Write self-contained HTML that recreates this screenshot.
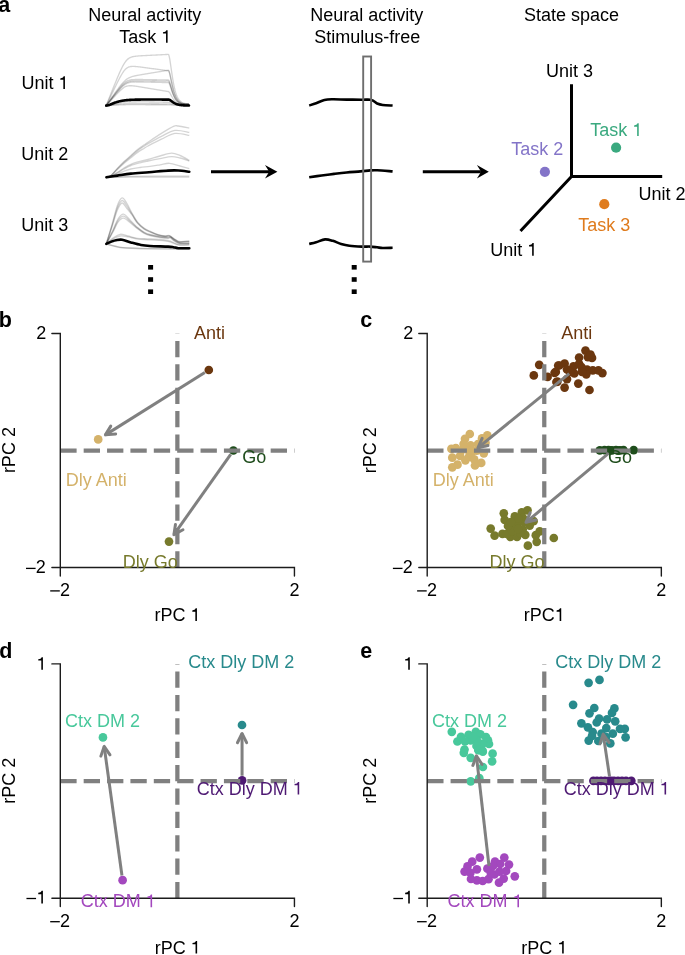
<!DOCTYPE html>
<html><head><meta charset="utf-8"><style>
html,body{margin:0;padding:0;background:#fff;}
svg{display:block;will-change:transform;}
text{font-family:"Liberation Sans",sans-serif;}
.b{font-weight:bold;}
</style></head><body>
<svg width="685" height="955" viewBox="0 0 685 955">
<rect width="685" height="955" fill="#fff"/>
<text x="88.28" y="21.10" font-size="18" fill="#000" >Neural activity</text>
<text x="119.14" y="42.80" font-size="18" fill="#000" >Task</text>
<path d=" M166.03,42.80 L167.61,42.80 L167.61,30.15 L166.37,30.15 C165.98,31.28 164.84,32.07 162.97,32.18 L162.97,33.55 L166.03,33.55 Z" fill="#000"/>
<text x="310.18" y="21.10" font-size="18" fill="#000" >Neural activity</text>
<text x="314.20" y="42.80" font-size="18" fill="#000" >Stimulus-free</text>
<text x="523.90" y="21.10" font-size="18" fill="#000" >State space</text>
<text x="21.45" y="89.00" font-size="18" fill="#000" >Unit</text>
<path d=" M63.34,89.00 L64.93,89.00 L64.93,76.35 L63.69,76.35 C63.29,77.48 62.16,78.27 60.28,78.38 L60.28,79.75 L63.34,79.75 Z" fill="#000"/>
<text x="21.15" y="159.90" font-size="18" fill="#000" >Unit 2</text>
<text x="21.15" y="231.10" font-size="18" fill="#000" >Unit 3</text>
<path d="M106.20,105.60 L106.80,104.10 L107.40,102.59 L108.00,101.09 L108.60,99.58 L109.20,98.08 L109.80,96.58 L110.40,95.07 L111.00,93.57 L111.60,92.07 L112.20,90.58 L112.80,89.08 L113.40,87.59 L114.00,86.10 L114.60,84.62 L115.20,83.14 L115.80,81.67 L116.40,80.21 L117.00,78.76 L117.60,77.33 L118.20,75.90 L118.80,74.50 L119.40,73.12 L120.00,71.77 L120.60,70.46 L121.20,69.18 L121.80,67.94 L122.40,66.76 L123.00,65.64 L123.60,64.58 L124.20,63.59 L124.80,62.65 L125.40,61.79 L126.00,61.00 L126.60,60.30 L127.20,59.68 L127.80,59.13 L128.40,58.65 L129.00,58.24 L129.60,57.88 L130.20,57.58 L130.80,57.32 L131.40,57.10 L132.00,56.91 L132.60,56.75 L133.20,56.61 L133.80,56.50 L134.40,56.40 L135.00,56.31 L135.60,56.23 L136.20,56.16 L136.80,56.10 L137.40,56.05 L138.00,56.00 L138.60,55.95 L139.20,55.91 L139.80,55.87 L140.40,55.83 L141.00,55.79 L141.60,55.76 L142.20,55.72 L142.80,55.69 L143.40,55.66 L144.00,55.62 L144.60,55.59 L145.20,55.56 L145.80,55.53 L146.40,55.50 L147.00,55.47 L147.60,55.44 L148.20,55.41 L148.80,55.38 L149.40,55.35 L150.00,55.32 L150.60,55.29 L151.20,55.26 L151.80,55.23 L152.40,55.20 L153.00,55.17 L153.60,55.14 L154.20,55.11 L154.80,55.08 L155.40,55.05 L156.00,55.02 L156.60,54.99 L157.20,54.96 L157.80,54.93 L158.40,54.90 L159.00,54.87 L159.60,54.84 L160.20,54.81 L160.80,54.78 L161.40,54.75 L162.00,54.72 L162.60,54.69 L163.20,54.66 L163.80,54.63 L164.40,54.60 L165.00,54.57 L165.60,54.54 L166.20,54.51 L166.80,54.48 L167.40,54.45 L168.00,54.42 L168.60,54.54 L169.20,56.32 L169.80,59.46 L170.40,63.34 L171.00,67.51 L171.60,71.68 L172.20,75.69 L172.80,79.42 L173.40,82.81 L174.00,85.85 L174.60,88.53 L175.20,90.88 L175.80,92.92 L176.40,94.68 L177.00,96.18 L177.60,97.46 L178.20,98.54 L178.80,99.46 L179.40,100.23 L180.00,100.87 L180.60,101.41 L181.20,101.86 L181.80,102.24 L182.40,102.55 L183.00,102.81 L183.60,103.02 L184.20,103.19 L184.80,103.34 L185.40,103.46 L186.00,103.56 L186.60,103.64 L187.20,103.70 L187.80,103.76 L188.40,103.80 L189.00,103.84" stroke="#000" stroke-opacity="0.17" stroke-width="1.35" fill="none"/>
<path d="M106.20,105.60 L106.80,104.35 L107.40,103.10 L108.00,101.84 L108.60,100.59 L109.20,99.34 L109.80,98.09 L110.40,96.84 L111.00,95.59 L111.60,94.34 L112.20,93.09 L112.80,91.85 L113.40,90.61 L114.00,89.37 L114.60,88.13 L115.20,86.90 L115.80,85.68 L116.40,84.46 L117.00,83.25 L117.60,82.06 L118.20,80.87 L118.80,79.71 L119.40,78.56 L120.00,77.43 L120.60,76.34 L121.20,75.27 L121.80,74.24 L122.40,73.26 L123.00,72.32 L123.60,71.44 L124.20,70.62 L124.80,69.93 L125.40,69.31 L126.00,68.76 L126.60,68.27 L127.20,67.86 L127.80,67.51 L128.40,67.22 L129.00,66.98 L129.60,66.79 L130.20,66.65 L130.80,66.54 L131.40,66.47 L132.00,66.42 L132.60,66.40 L133.20,66.39 L133.80,66.40 L134.40,66.43 L135.00,66.46 L135.60,66.51 L136.20,66.56 L136.80,66.61 L137.40,66.67 L138.00,66.74 L138.60,66.81 L139.20,66.88 L139.80,66.95 L140.40,67.03 L141.00,67.10 L141.60,67.18 L142.20,67.26 L142.80,67.34 L143.40,67.42 L144.00,67.50 L144.60,67.58 L145.20,67.66 L145.80,67.74 L146.40,67.82 L147.00,67.90 L147.60,67.98 L148.20,68.06 L148.80,68.14 L149.40,68.22 L150.00,68.30 L150.60,68.38 L151.20,68.47 L151.80,68.55 L152.40,68.63 L153.00,68.71 L153.60,68.79 L154.20,68.87 L154.80,68.95 L155.40,69.04 L156.00,69.12 L156.60,69.20 L157.20,69.28 L157.80,69.36 L158.40,69.44 L159.00,69.52 L159.60,69.61 L160.20,69.69 L160.80,69.77 L161.40,69.85 L162.00,69.93 L162.60,70.01 L163.20,70.09 L163.80,70.18 L164.40,70.26 L165.00,70.34 L165.60,70.42 L166.20,70.50 L166.80,70.58 L167.40,70.66 L168.00,70.75 L168.60,70.89 L169.20,72.09 L169.80,74.21 L170.40,76.82 L171.00,79.63 L171.60,82.44 L172.20,85.14 L172.80,87.65 L173.40,89.93 L174.00,91.98 L174.60,93.79 L175.20,95.37 L175.80,96.74 L176.40,97.92 L177.00,98.93 L177.60,99.80 L178.20,100.53 L178.80,101.14 L179.40,101.66 L180.00,102.09 L180.60,102.46 L181.20,102.76 L181.80,103.01 L182.40,103.22 L183.00,103.40 L183.60,103.54 L184.20,103.66 L184.80,103.76 L185.40,103.84 L186.00,103.90 L186.60,103.96 L187.20,104.00 L187.80,104.04 L188.40,104.07 L189.00,104.09" stroke="#000" stroke-opacity="0.17" stroke-width="1.35" fill="none"/>
<path d="M106.20,105.60 L106.80,104.74 L107.40,103.88 L108.00,103.01 L108.60,102.15 L109.20,101.29 L109.80,100.43 L110.40,99.56 L111.00,98.70 L111.60,97.84 L112.20,96.99 L112.80,96.13 L113.40,95.27 L114.00,94.42 L114.60,93.57 L115.20,92.72 L115.80,91.88 L116.40,91.04 L117.00,90.21 L117.60,89.39 L118.20,88.57 L118.80,87.77 L119.40,86.98 L120.00,86.20 L120.60,85.45 L121.20,84.71 L121.80,84.00 L122.40,83.33 L123.00,82.68 L123.60,82.07 L124.20,81.51 L124.80,80.90 L125.40,80.33 L126.00,79.80 L126.60,79.32 L127.20,78.88 L127.80,78.49 L128.40,78.13 L129.00,77.81 L129.60,77.52 L130.20,77.26 L130.80,77.03 L131.40,76.82 L132.00,76.63 L132.60,76.45 L133.20,76.29 L133.80,76.14 L134.40,76.00 L135.00,75.87 L135.60,75.74 L136.20,75.62 L136.80,75.50 L137.40,75.38 L138.00,75.27 L138.60,75.16 L139.20,75.06 L139.80,74.95 L140.40,74.85 L141.00,74.74 L141.60,74.64 L142.20,74.54 L142.80,74.44 L143.40,74.34 L144.00,74.24 L144.60,74.14 L145.20,74.04 L145.80,73.94 L146.40,73.84 L147.00,73.74 L147.60,73.64 L148.20,73.54 L148.80,73.44 L149.40,73.34 L150.00,73.24 L150.60,73.14 L151.20,73.04 L151.80,72.94 L152.40,72.84 L153.00,72.74 L153.60,72.64 L154.20,72.55 L154.80,72.45 L155.40,72.35 L156.00,72.25 L156.60,72.15 L157.20,72.05 L157.80,71.95 L158.40,71.85 L159.00,71.75 L159.60,71.65 L160.20,71.55 L160.80,71.46 L161.40,71.36 L162.00,71.26 L162.60,71.16 L163.20,71.06 L163.80,70.96 L164.40,70.86 L165.00,70.76 L165.60,70.66 L166.20,70.56 L166.80,70.46 L167.40,70.37 L168.00,70.27 L168.60,70.30 L169.20,71.52 L169.80,73.69 L170.40,76.36 L171.00,79.24 L171.60,82.12 L172.20,84.88 L172.80,87.45 L173.40,89.79 L174.00,91.88 L174.60,93.74 L175.20,95.36 L175.80,96.76 L176.40,97.97 L177.00,99.01 L177.60,99.89 L178.20,100.64 L178.80,101.27 L179.40,101.80 L180.00,102.24 L180.60,102.62 L181.20,102.93 L181.80,103.18 L182.40,103.40 L183.00,103.58 L183.60,103.72 L184.20,103.84 L184.80,103.94 L185.40,104.03 L186.00,104.09 L186.60,104.15 L187.20,104.20 L187.80,104.23 L188.40,104.26 L189.00,104.29" stroke="#000" stroke-opacity="0.17" stroke-width="1.35" fill="none"/>
<path d="M106.20,105.60 L106.80,104.79 L107.40,103.98 L108.00,103.17 L108.60,102.36 L109.20,101.55 L109.80,100.74 L110.40,99.93 L111.00,99.12 L111.60,98.31 L112.20,97.51 L112.80,96.70 L113.40,95.90 L114.00,95.10 L114.60,94.30 L115.20,93.50 L115.80,92.71 L116.40,91.92 L117.00,91.14 L117.60,90.37 L118.20,89.60 L118.80,88.85 L119.40,88.10 L120.00,87.38 L120.60,86.67 L121.20,85.98 L121.80,85.31 L122.40,84.67 L123.00,84.07 L123.60,83.50 L124.20,82.96 L124.80,82.48 L125.40,82.04 L126.00,81.65 L126.60,81.29 L127.20,80.98 L127.80,80.72 L128.40,80.49 L129.00,80.29 L129.60,80.13 L130.20,79.99 L130.80,79.88 L131.40,79.79 L132.00,79.71 L132.60,79.65 L133.20,79.61 L133.80,79.57 L134.40,79.55 L135.00,79.53 L135.60,79.51 L136.20,79.50 L136.80,79.50 L137.40,79.49 L138.00,79.49 L138.60,79.50 L139.20,79.50 L139.80,79.51 L140.40,79.51 L141.00,79.52 L141.60,79.53 L142.20,79.54 L142.80,79.54 L143.40,79.55 L144.00,79.56 L144.60,79.57 L145.20,79.58 L145.80,79.59 L146.40,79.60 L147.00,79.61 L147.60,79.62 L148.20,79.64 L148.80,79.65 L149.40,79.66 L150.00,79.67 L150.60,79.68 L151.20,79.69 L151.80,79.70 L152.40,79.71 L153.00,79.72 L153.60,79.73 L154.20,79.74 L154.80,79.75 L155.40,79.76 L156.00,79.78 L156.60,79.79 L157.20,79.80 L157.80,79.81 L158.40,79.82 L159.00,79.83 L159.60,79.84 L160.20,79.85 L160.80,79.86 L161.40,79.87 L162.00,79.88 L162.60,79.90 L163.20,79.91 L163.80,79.92 L164.40,79.93 L165.00,79.94 L165.60,79.95 L166.20,79.96 L166.80,79.97 L167.40,79.98 L168.00,79.99 L168.60,80.07 L169.20,80.94 L169.80,82.49 L170.40,84.40 L171.00,86.45 L171.60,88.50 L172.20,90.47 L172.80,92.31 L173.40,93.98 L174.00,95.47 L174.60,96.79 L175.20,97.95 L175.80,98.95 L176.40,99.81 L177.00,100.55 L177.60,101.18 L178.20,101.72 L178.80,102.17 L179.40,102.54 L180.00,102.86 L180.60,103.13 L181.20,103.35 L181.80,103.53 L182.40,103.69 L183.00,103.81 L183.60,103.92 L184.20,104.00 L184.80,104.08 L185.40,104.13 L186.00,104.18 L186.60,104.22 L187.20,104.25 L187.80,104.28 L188.40,104.30 L189.00,104.32" stroke="#000" stroke-opacity="0.17" stroke-width="1.35" fill="none"/>
<path d="M106.20,105.60 L106.80,104.83 L107.40,104.07 L108.00,103.30 L108.60,102.53 L109.20,101.76 L109.80,101.00 L110.40,100.23 L111.00,99.46 L111.60,98.70 L112.20,97.94 L112.80,97.17 L113.40,96.41 L114.00,95.65 L114.60,94.90 L115.20,94.14 L115.80,93.39 L116.40,92.65 L117.00,91.91 L117.60,91.17 L118.20,90.45 L118.80,89.73 L119.40,89.03 L120.00,88.34 L120.60,87.67 L121.20,87.02 L121.80,86.39 L122.40,85.78 L123.00,85.21 L123.60,84.67 L124.20,84.16 L124.80,83.71 L125.40,83.29 L126.00,82.91 L126.60,82.58 L127.20,82.28 L127.80,82.02 L128.40,81.80 L129.00,81.62 L129.60,81.46 L130.20,81.33 L130.80,81.22 L131.40,81.13 L132.00,81.06 L132.60,81.00 L133.20,80.96 L133.80,80.92 L134.40,80.89 L135.00,80.87 L135.60,80.85 L136.20,80.84 L136.80,80.84 L137.40,80.83 L138.00,80.83 L138.60,80.83 L139.20,80.83 L139.80,80.83 L140.40,80.84 L141.00,80.84 L141.60,80.85 L142.20,80.85 L142.80,80.86 L143.40,80.87 L144.00,80.87 L144.60,80.88 L145.20,80.89 L145.80,80.90 L146.40,80.90 L147.00,80.91 L147.60,80.92 L148.20,80.93 L148.80,80.93 L149.40,80.94 L150.00,80.95 L150.60,80.96 L151.20,80.97 L151.80,80.97 L152.40,80.98 L153.00,80.99 L153.60,81.00 L154.20,81.01 L154.80,81.02 L155.40,81.02 L156.00,81.03 L156.60,81.04 L157.20,81.05 L157.80,81.06 L158.40,81.06 L159.00,81.07 L159.60,81.08 L160.20,81.09 L160.80,81.10 L161.40,81.10 L162.00,81.11 L162.60,81.12 L163.20,81.13 L163.80,81.14 L164.40,81.15 L165.00,81.15 L165.60,81.16 L166.20,81.17 L166.80,81.18 L167.40,81.19 L168.00,81.19 L168.60,81.27 L169.20,82.10 L169.80,83.59 L170.40,85.42 L171.00,87.38 L171.60,89.35 L172.20,91.24 L172.80,93.00 L173.40,94.60 L174.00,96.04 L174.60,97.30 L175.20,98.41 L175.80,99.37 L176.40,100.20 L177.00,100.91 L177.60,101.51 L178.20,102.03 L178.80,102.46 L179.40,102.82 L180.00,103.12 L180.60,103.38 L181.20,103.59 L181.80,103.77 L182.40,103.91 L183.00,104.04 L183.60,104.14 L184.20,104.22 L184.80,104.29 L185.40,104.34 L186.00,104.39 L186.60,104.43 L187.20,104.46 L187.80,104.49 L188.40,104.51 L189.00,104.52" stroke="#000" stroke-opacity="0.17" stroke-width="1.35" fill="none"/>
<path d="M106.20,105.60 L106.80,104.87 L107.40,104.13 L108.00,103.39 L108.60,102.65 L109.20,101.92 L109.80,101.18 L110.40,100.44 L111.00,99.71 L111.60,98.98 L112.20,98.24 L112.80,97.51 L113.40,96.78 L114.00,96.05 L114.60,95.32 L115.20,94.60 L115.80,93.88 L116.40,93.17 L117.00,92.46 L117.60,91.75 L118.20,91.06 L118.80,90.37 L119.40,89.69 L120.00,89.03 L120.60,88.39 L121.20,87.76 L121.80,87.16 L122.40,86.58 L123.00,86.03 L123.60,85.51 L124.20,85.02 L124.80,84.59 L125.40,84.19 L126.00,83.83 L126.60,83.52 L127.20,83.24 L127.80,83.00 L128.40,82.79 L129.00,82.62 L129.60,82.47 L130.20,82.35 L130.80,82.26 L131.40,82.18 L132.00,82.11 L132.60,82.06 L133.20,82.03 L133.80,82.00 L134.40,81.98 L135.00,81.96 L135.60,81.95 L136.20,81.95 L136.80,81.95 L137.40,81.95 L138.00,81.95 L138.60,81.96 L139.20,81.97 L139.80,81.97 L140.40,81.98 L141.00,81.99 L141.60,82.00 L142.20,82.02 L142.80,82.03 L143.40,82.04 L144.00,82.05 L144.60,82.07 L145.20,82.08 L145.80,82.09 L146.40,82.10 L147.00,82.12 L147.60,82.13 L148.20,82.14 L148.80,82.16 L149.40,82.17 L150.00,82.18 L150.60,82.20 L151.20,82.21 L151.80,82.22 L152.40,82.24 L153.00,82.25 L153.60,82.27 L154.20,82.28 L154.80,82.29 L155.40,82.31 L156.00,82.32 L156.60,82.33 L157.20,82.35 L157.80,82.36 L158.40,82.37 L159.00,82.39 L159.60,82.40 L160.20,82.41 L160.80,82.43 L161.40,82.44 L162.00,82.46 L162.60,82.47 L163.20,82.48 L163.80,82.50 L164.40,82.51 L165.00,82.52 L165.60,82.54 L166.20,82.55 L166.80,82.56 L167.40,82.58 L168.00,82.59 L168.60,82.66 L169.20,83.45 L169.80,84.85 L170.40,86.56 L171.00,88.41 L171.60,90.27 L172.20,92.04 L172.80,93.70 L173.40,95.20 L174.00,96.55 L174.60,97.74 L175.20,98.78 L175.80,99.69 L176.40,100.47 L177.00,101.13 L177.60,101.70 L178.20,102.18 L178.80,102.59 L179.40,102.93 L180.00,103.21 L180.60,103.45 L181.20,103.65 L181.80,103.82 L182.40,103.96 L183.00,104.07 L183.60,104.16 L184.20,104.24 L184.80,104.31 L185.40,104.36 L186.00,104.40 L186.60,104.44 L187.20,104.47 L187.80,104.49 L188.40,104.51 L189.00,104.53" stroke="#000" stroke-opacity="0.17" stroke-width="1.35" fill="none"/>
<path d="M106.20,105.60 L106.80,104.94 L107.40,104.29 L108.00,103.63 L108.60,102.97 L109.20,102.32 L109.80,101.66 L110.40,101.00 L111.00,100.35 L111.60,99.69 L112.20,99.04 L112.80,98.39 L113.40,97.74 L114.00,97.09 L114.60,96.44 L115.20,95.79 L115.80,95.15 L116.40,94.51 L117.00,93.88 L117.60,93.25 L118.20,92.63 L118.80,92.02 L119.40,91.42 L120.00,90.83 L120.60,90.25 L121.20,89.69 L121.80,89.15 L122.40,88.64 L123.00,88.15 L123.60,87.68 L124.20,87.25 L124.80,86.94 L125.40,86.67 L126.00,86.43 L126.60,86.24 L127.20,86.07 L127.80,85.95 L128.40,85.85 L129.00,85.79 L129.60,85.75 L130.20,85.73 L130.80,85.74 L131.40,85.76 L132.00,85.79 L132.60,85.84 L133.20,85.89 L133.80,85.96 L134.40,86.03 L135.00,86.11 L135.60,86.19 L136.20,86.27 L136.80,86.36 L137.40,86.45 L138.00,86.54 L138.60,86.64 L139.20,86.73 L139.80,86.83 L140.40,86.93 L141.00,87.02 L141.60,87.12 L142.20,87.22 L142.80,87.32 L143.40,87.42 L144.00,87.52 L144.60,87.62 L145.20,87.72 L145.80,87.82 L146.40,87.92 L147.00,88.02 L147.60,88.12 L148.20,88.22 L148.80,88.32 L149.40,88.42 L150.00,88.52 L150.60,88.62 L151.20,88.72 L151.80,88.82 L152.40,88.92 L153.00,89.02 L153.60,89.12 L154.20,89.22 L154.80,89.32 L155.40,89.42 L156.00,89.52 L156.60,89.62 L157.20,89.72 L157.80,89.83 L158.40,89.93 L159.00,90.03 L159.60,90.13 L160.20,90.23 L160.80,90.33 L161.40,90.43 L162.00,90.53 L162.60,90.63 L163.20,90.73 L163.80,90.83 L164.40,90.93 L165.00,91.03 L165.60,91.13 L166.20,91.23 L166.80,91.33 L167.40,91.43 L168.00,91.53 L168.60,91.64 L169.20,92.11 L169.80,92.95 L170.40,93.98 L171.00,95.09 L171.60,96.20 L172.20,97.27 L172.80,98.26 L173.40,99.16 L174.00,99.97 L174.60,100.68 L175.20,101.31 L175.80,101.85 L176.40,102.32 L177.00,102.72 L177.60,103.06 L178.20,103.35 L178.80,103.59 L179.40,103.80 L180.00,103.97 L180.60,104.11 L181.20,104.23 L181.80,104.33 L182.40,104.41 L183.00,104.48 L183.60,104.54 L184.20,104.59 L184.80,104.62 L185.40,104.66 L186.00,104.68 L186.60,104.70 L187.20,104.72 L187.80,104.74 L188.40,104.75 L189.00,104.76" stroke="#000" stroke-opacity="0.17" stroke-width="1.35" fill="none"/>
<path d="M106.20,105.60 L106.80,105.47 L107.40,105.35 L108.00,105.22 L108.60,105.10 L109.20,104.97 L109.80,104.85 L110.40,104.72 L111.00,104.59 L111.60,104.47 L112.20,104.34 L112.80,104.22 L113.40,104.09 L114.00,103.97 L114.60,103.84 L115.20,103.72 L115.80,103.60 L116.40,103.48 L117.00,103.35 L117.60,103.23 L118.20,103.12 L118.80,103.00 L119.40,102.88 L120.00,102.77 L120.60,102.66 L121.20,102.55 L121.80,102.45 L122.40,102.35 L123.00,102.26 L123.60,102.17 L124.20,102.08 L124.80,102.02 L125.40,101.96 L126.00,101.90 L126.60,101.86 L127.20,101.82 L127.80,101.79 L128.40,101.76 L129.00,101.74 L129.60,101.72 L130.20,101.71 L130.80,101.70 L131.40,101.70 L132.00,101.70 L132.60,101.70 L133.20,101.70 L133.80,101.70 L134.40,101.71 L135.00,101.71 L135.60,101.72 L136.20,101.73 L136.80,101.74 L137.40,101.75 L138.00,101.76 L138.60,101.77 L139.20,101.78 L139.80,101.79 L140.40,101.80 L141.00,101.81 L141.60,101.82 L142.20,101.83 L142.80,101.84 L143.40,101.85 L144.00,101.86 L144.60,101.87 L145.20,101.88 L145.80,101.89 L146.40,101.90 L147.00,101.91 L147.60,101.92 L148.20,101.93 L148.80,101.95 L149.40,101.96 L150.00,101.97 L150.60,101.98 L151.20,101.99 L151.80,102.00 L152.40,102.01 L153.00,102.02 L153.60,102.03 L154.20,102.04 L154.80,102.05 L155.40,102.06 L156.00,102.08 L156.60,102.09 L157.20,102.10 L157.80,102.11 L158.40,102.12 L159.00,102.13 L159.60,102.14 L160.20,102.15 L160.80,102.16 L161.40,102.17 L162.00,102.18 L162.60,102.20 L163.20,102.21 L163.80,102.22 L164.40,102.23 L165.00,102.24 L165.60,102.25 L166.20,102.26 L166.80,102.27 L167.40,102.28 L168.00,102.29 L168.60,102.31 L169.20,102.37 L169.80,102.49 L170.40,102.64 L171.00,102.80 L171.60,102.96 L172.20,103.12 L172.80,103.26 L173.40,103.39 L174.00,103.50 L174.60,103.61 L175.20,103.70 L175.80,103.78 L176.40,103.84 L177.00,103.90 L177.60,103.95 L178.20,103.99 L178.80,104.03 L179.40,104.06 L180.00,104.08 L180.60,104.10 L181.20,104.12 L181.80,104.13 L182.40,104.14 L183.00,104.15 L183.60,104.16 L184.20,104.17 L184.80,104.17 L185.40,104.18 L186.00,104.18 L186.60,104.19 L187.20,104.19 L187.80,104.19 L188.40,104.19 L189.00,104.19" stroke="#000" stroke-opacity="0.17" stroke-width="1.35" fill="none"/>
<path d="M106.20,105.60 L106.80,105.53 L107.40,105.47 L108.00,105.40 L108.60,105.33 L109.20,105.26 L109.80,105.19 L110.40,105.13 L111.00,105.06 L111.60,104.99 L112.20,104.93 L112.80,104.86 L113.40,104.79 L114.00,104.72 L114.60,104.66 L115.20,104.59 L115.80,104.53 L116.40,104.46 L117.00,104.40 L117.60,104.33 L118.20,104.27 L118.80,104.20 L119.40,104.14 L120.00,104.08 L120.60,104.02 L121.20,103.96 L121.80,103.91 L122.40,103.86 L123.00,103.81 L123.60,103.76 L124.20,103.71 L124.80,103.68 L125.40,103.65 L126.00,103.62 L126.60,103.60 L127.20,103.58 L127.80,103.56 L128.40,103.55 L129.00,103.54 L129.60,103.53 L130.20,103.52 L130.80,103.52 L131.40,103.52 L132.00,103.52 L132.60,103.52 L133.20,103.52 L133.80,103.52 L134.40,103.53 L135.00,103.53 L135.60,103.54 L136.20,103.54 L136.80,103.55 L137.40,103.55 L138.00,103.56 L138.60,103.57 L139.20,103.57 L139.80,103.58 L140.40,103.58 L141.00,103.59 L141.60,103.60 L142.20,103.60 L142.80,103.61 L143.40,103.62 L144.00,103.62 L144.60,103.63 L145.20,103.64 L145.80,103.64 L146.40,103.65 L147.00,103.66 L147.60,103.66 L148.20,103.67 L148.80,103.68 L149.40,103.69 L150.00,103.69 L150.60,103.70 L151.20,103.71 L151.80,103.71 L152.40,103.72 L153.00,103.73 L153.60,103.73 L154.20,103.74 L154.80,103.75 L155.40,103.75 L156.00,103.76 L156.60,103.77 L157.20,103.77 L157.80,103.78 L158.40,103.79 L159.00,103.79 L159.60,103.80 L160.20,103.81 L160.80,103.81 L161.40,103.82 L162.00,103.83 L162.60,103.83 L163.20,103.84 L163.80,103.85 L164.40,103.85 L165.00,103.86 L165.60,103.87 L166.20,103.88 L166.80,103.88 L167.40,103.89 L168.00,103.90 L168.60,103.90 L169.20,103.94 L169.80,104.01 L170.40,104.10 L171.00,104.19 L171.60,104.28 L172.20,104.37 L172.80,104.45 L173.40,104.53 L174.00,104.60 L174.60,104.66 L175.20,104.71 L175.80,104.75 L176.40,104.79 L177.00,104.83 L177.60,104.85 L178.20,104.88 L178.80,104.90 L179.40,104.92 L180.00,104.93 L180.60,104.94 L181.20,104.95 L181.80,104.96 L182.40,104.97 L183.00,104.97 L183.60,104.98 L184.20,104.98 L184.80,104.99 L185.40,104.99 L186.00,104.99 L186.60,104.99 L187.20,104.99 L187.80,104.99 L188.40,105.00 L189.00,105.00" stroke="#000" stroke-opacity="0.17" stroke-width="1.35" fill="none"/>
<path d="M106.20,105.60 L106.80,105.57 L107.40,105.54 L108.00,105.51 L108.60,105.48 L109.20,105.45 L109.80,105.42 L110.40,105.39 L111.00,105.35 L111.60,105.32 L112.20,105.29 L112.80,105.26 L113.40,105.23 L114.00,105.20 L114.60,105.17 L115.20,105.14 L115.80,105.11 L116.40,105.08 L117.00,105.05 L117.60,105.02 L118.20,104.99 L118.80,104.97 L119.40,104.94 L120.00,104.91 L120.60,104.88 L121.20,104.86 L121.80,104.83 L122.40,104.81 L123.00,104.78 L123.60,104.76 L124.20,104.74 L124.80,104.73 L125.40,104.71 L126.00,104.70 L126.60,104.69 L127.20,104.68 L127.80,104.67 L128.40,104.66 L129.00,104.66 L129.60,104.66 L130.20,104.65 L130.80,104.65 L131.40,104.65 L132.00,104.65 L132.60,104.65 L133.20,104.65 L133.80,104.65 L134.40,104.65 L135.00,104.65 L135.60,104.66 L136.20,104.66 L136.80,104.66 L137.40,104.66 L138.00,104.66 L138.60,104.67 L139.20,104.67 L139.80,104.67 L140.40,104.67 L141.00,104.68 L141.60,104.68 L142.20,104.68 L142.80,104.68 L143.40,104.69 L144.00,104.69 L144.60,104.69 L145.20,104.70 L145.80,104.70 L146.40,104.70 L147.00,104.70 L147.60,104.71 L148.20,104.71 L148.80,104.71 L149.40,104.71 L150.00,104.72 L150.60,104.72 L151.20,104.72 L151.80,104.72 L152.40,104.73 L153.00,104.73 L153.60,104.73 L154.20,104.74 L154.80,104.74 L155.40,104.74 L156.00,104.74 L156.60,104.75 L157.20,104.75 L157.80,104.75 L158.40,104.75 L159.00,104.76 L159.60,104.76 L160.20,104.76 L160.80,104.77 L161.40,104.77 L162.00,104.77 L162.60,104.77 L163.20,104.78 L163.80,104.78 L164.40,104.78 L165.00,104.78 L165.60,104.79 L166.20,104.79 L166.80,104.79 L167.40,104.80 L168.00,104.80 L168.60,104.80 L169.20,104.82 L169.80,104.85 L170.40,104.89 L171.00,104.93 L171.60,104.97 L172.20,105.01 L172.80,105.05 L173.40,105.09 L174.00,105.12 L174.60,105.14 L175.20,105.17 L175.80,105.19 L176.40,105.21 L177.00,105.22 L177.60,105.23 L178.20,105.24 L178.80,105.25 L179.40,105.26 L180.00,105.27 L180.60,105.27 L181.20,105.28 L181.80,105.28 L182.40,105.29 L183.00,105.29 L183.60,105.29 L184.20,105.29 L184.80,105.29 L185.40,105.29 L186.00,105.30 L186.60,105.30 L187.20,105.30 L187.80,105.30 L188.40,105.30 L189.00,105.30" stroke="#000" stroke-opacity="0.17" stroke-width="1.35" fill="none"/>
<path d="M106.20,105.60 L106.80,105.57 L107.40,105.47 L108.00,105.33 L108.60,105.16 L109.20,104.95 L109.80,104.73 L110.40,104.50 L111.00,104.25 L111.60,104.00 L112.20,103.75 L112.80,103.51 L113.40,103.27 L114.00,103.03 L114.60,102.80 L115.20,102.58 L115.80,102.37 L116.40,102.17 L117.00,101.98 L117.60,101.80 L118.20,101.63 L118.80,101.47 L119.40,101.32 L120.00,101.17 L120.60,101.04 L121.20,100.92 L121.80,100.81 L122.40,100.70 L123.00,100.60 L123.60,100.51 L124.20,100.42 L124.80,100.35 L125.40,100.27 L126.00,100.21 L126.60,100.14 L127.20,100.09 L127.80,100.04 L128.40,99.99 L129.00,99.94 L129.60,99.90 L130.20,99.87 L130.80,99.83 L131.40,99.80 L132.00,99.78 L132.60,99.75 L133.20,99.73 L133.80,99.71 L134.40,99.69 L135.00,99.67 L135.60,99.65 L136.20,99.64 L136.80,99.63 L137.40,99.62 L138.00,99.61 L138.60,99.60 L139.20,99.59 L139.80,99.58 L140.40,99.58 L141.00,99.57 L141.60,99.57 L142.20,99.56 L142.80,99.56 L143.40,99.55 L144.00,99.55 L144.60,99.55 L145.20,99.55 L145.80,99.55 L146.40,99.55 L147.00,99.55 L147.60,99.54 L148.20,99.54 L148.80,99.54 L149.40,99.54 L150.00,99.55 L150.60,99.55 L151.20,99.55 L151.80,99.55 L152.40,99.55 L153.00,99.55 L153.60,99.55 L154.20,99.55 L154.80,99.55 L155.40,99.56 L156.00,99.56 L156.60,99.56 L157.20,99.56 L157.80,99.56 L158.40,99.56 L159.00,99.57 L159.60,99.57 L160.20,99.57 L160.80,99.57 L161.40,99.57 L162.00,99.58 L162.60,99.58 L163.20,99.58 L163.80,99.58 L164.40,99.59 L165.00,99.59 L165.60,99.59 L166.20,99.59 L166.80,99.59 L167.40,99.60 L168.00,99.60 L168.60,99.60 L169.20,99.71 L169.80,99.97 L170.40,100.33 L171.00,100.75 L171.60,101.19 L172.20,101.62 L172.80,102.05 L173.40,102.45 L174.00,102.82 L174.60,103.16 L175.20,103.47 L175.80,103.75 L176.40,104.00 L177.00,104.21 L177.60,104.41 L178.20,104.57 L178.80,104.72 L179.40,104.85 L180.00,104.96 L180.60,105.05 L181.20,105.13 L181.80,105.20 L182.40,105.26 L183.00,105.31 L183.60,105.36 L184.20,105.39 L184.80,105.43 L185.40,105.45 L186.00,105.48 L186.60,105.50 L187.20,105.51 L187.80,105.53 L188.40,105.54 L189.00,105.55" stroke="#000" stroke-width="2.6" fill="none" stroke-linejoin="round" stroke-linecap="round"/>
<path d="M106.20,177.50 C106.95,177.20 108.83,177.22 110.70,175.70 C112.57,174.18 115.17,170.75 117.40,168.40 C119.63,166.05 121.85,163.73 124.10,161.60 C126.35,159.47 128.65,157.62 130.90,155.60 C133.15,153.58 135.37,151.30 137.60,149.50 C139.83,147.70 142.57,146.02 144.30,144.80 C146.03,143.58 145.15,144.10 148.00,142.20 C150.85,140.30 157.15,136.03 161.40,133.40 C165.65,130.77 170.70,127.63 173.50,126.40 C176.30,125.17 175.57,125.72 178.20,126.00 C180.83,126.28 187.45,127.75 189.30,128.10" stroke="#000" stroke-opacity="0.17" stroke-width="1.35" fill="none"/>
<path d="M106.20,177.50 C106.95,177.22 108.83,177.25 110.70,175.80 C112.57,174.35 115.17,171.07 117.40,168.80 C119.63,166.53 121.85,164.27 124.10,162.20 C126.35,160.13 128.65,158.33 130.90,156.40 C133.15,154.47 135.37,152.33 137.60,150.60 C139.83,148.87 142.57,147.17 144.30,146.00 C146.03,144.83 145.15,145.20 148.00,143.60 C150.85,142.00 156.92,138.60 161.40,136.40 C165.88,134.20 170.25,131.07 174.90,130.40 C179.55,129.73 186.90,132.07 189.30,132.40" stroke="#000" stroke-opacity="0.17" stroke-width="1.35" fill="none"/>
<path d="M106.20,177.50 C106.95,177.25 108.83,177.35 110.70,176.00 C112.57,174.65 115.17,171.53 117.40,169.40 C119.63,167.27 121.85,165.13 124.10,163.20 C126.35,161.27 128.65,159.60 130.90,157.80 C133.15,156.00 135.37,154.00 137.60,152.40 C139.83,150.80 142.57,149.27 144.30,148.20 C146.03,147.13 145.15,147.50 148.00,146.00 C150.85,144.50 156.92,141.30 161.40,139.20 C165.88,137.10 170.25,134.03 174.90,133.40 C179.55,132.77 186.90,135.07 189.30,135.40" stroke="#000" stroke-opacity="0.17" stroke-width="1.35" fill="none"/>
<path d="M106.20,177.50 C107.00,177.28 109.13,177.05 111.00,176.20 C112.87,175.35 115.23,173.77 117.40,172.40 C119.57,171.03 121.75,169.35 124.00,168.00 C126.25,166.65 128.23,165.40 130.90,164.30 C133.57,163.20 137.15,162.20 140.00,161.40 C142.85,160.60 144.67,160.40 148.00,159.50 C151.33,158.60 156.08,157.05 160.00,156.00 C163.92,154.95 168.17,153.28 171.50,153.20 C174.83,153.12 177.03,154.32 180.00,155.50 C182.97,156.68 187.75,159.50 189.30,160.30" stroke="#000" stroke-opacity="0.17" stroke-width="1.35" fill="none"/>
<path d="M106.20,177.50 C107.00,177.32 109.13,177.15 111.00,176.40 C112.87,175.65 115.23,174.23 117.40,173.00 C119.57,171.77 121.75,170.25 124.00,169.00 C126.25,167.75 128.23,166.53 130.90,165.50 C133.57,164.47 137.15,163.55 140.00,162.80 C142.85,162.05 144.67,161.70 148.00,161.00 C151.33,160.30 156.08,159.33 160.00,158.60 C163.92,157.87 168.17,156.70 171.50,156.60 C174.83,156.50 177.03,157.27 180.00,158.00 C182.97,158.73 187.75,160.50 189.30,161.00" stroke="#000" stroke-opacity="0.17" stroke-width="1.35" fill="none"/>
<path d="M106.20,177.50 C107.00,177.38 109.13,177.32 111.00,176.80 C112.87,176.28 115.23,175.33 117.40,174.40 C119.57,173.47 121.75,172.10 124.00,171.20 C126.25,170.30 128.23,169.62 130.90,169.00 C133.57,168.38 136.82,167.95 140.00,167.50 C143.18,167.05 146.67,166.75 150.00,166.30 C153.33,165.85 156.75,165.30 160.00,164.80 C163.25,164.30 166.17,163.10 169.50,163.30 C172.83,163.50 176.70,165.10 180.00,166.00 C183.30,166.90 187.75,168.25 189.30,168.70" stroke="#000" stroke-opacity="0.17" stroke-width="1.35" fill="none"/>
<path d="M106.20,177.50 C110.17,177.32 121.03,176.63 130.00,176.40 C138.97,176.17 150.12,176.15 160.00,176.10 C169.88,176.05 184.42,176.10 189.30,176.10" stroke="#000" stroke-opacity="0.17" stroke-width="1.35" fill="none"/>
<path d="M106.20,177.50 C110.17,177.43 121.03,177.17 130.00,177.10 C138.97,177.03 150.12,177.10 160.00,177.10 C169.88,177.10 184.42,177.10 189.30,177.10" stroke="#000" stroke-opacity="0.17" stroke-width="1.35" fill="none"/>
<path d="M106.40,177.30 C108.23,177.02 113.32,176.22 117.40,175.60 C121.48,174.98 125.63,174.17 130.90,173.60 C136.17,173.03 142.80,172.70 149.00,172.20 C155.20,171.70 163.23,170.88 168.10,170.60 C172.97,170.32 174.67,170.32 178.20,170.50 C181.73,170.68 187.45,171.50 189.30,171.70" stroke="#000" stroke-width="2.6" fill="none" stroke-linecap="round"/>
<path d="M106.30,243.80 C107.27,240.53 110.25,230.60 112.10,224.20 C113.95,217.80 115.73,209.78 117.40,205.40 C119.07,201.02 120.53,198.23 122.10,197.90 C123.67,197.57 125.12,200.80 126.80,203.40 C128.48,206.00 130.40,210.37 132.20,213.50 C134.00,216.63 135.58,219.73 137.60,222.20 C139.62,224.67 142.23,226.80 144.30,228.30 C146.37,229.80 147.70,230.15 150.00,231.20 C152.30,232.25 155.60,233.82 158.10,234.60 C160.60,235.38 163.10,235.73 165.00,235.90 C166.90,236.07 167.85,235.03 169.50,235.60 C171.15,236.17 173.22,238.32 174.90,239.30 C176.58,240.28 177.20,241.22 179.60,241.50 C182.00,241.78 187.68,241.08 189.30,241.00" stroke="#000" stroke-opacity="0.17" stroke-width="1.35" fill="none"/>
<path d="M106.30,243.80 C107.27,240.73 110.25,231.38 112.10,225.37 C113.95,219.36 115.73,211.88 117.40,207.74 C119.07,203.60 120.53,200.81 122.10,200.50 C123.67,200.19 125.12,203.54 126.80,205.87 C128.48,208.20 130.40,211.62 132.20,214.46 C134.00,217.30 135.58,220.51 137.60,222.92 C139.62,225.33 142.23,227.44 144.30,228.90 C146.37,230.36 147.70,230.67 150.00,231.68 C152.30,232.69 155.60,234.20 158.10,234.96 C160.60,235.72 163.10,236.09 165.00,236.26 C166.90,236.43 167.85,235.39 169.50,235.96 C171.15,236.53 173.22,238.68 174.90,239.66 C176.58,240.64 177.20,241.58 179.60,241.86 C182.00,242.14 187.68,241.44 189.30,241.36" stroke="#000" stroke-opacity="0.17" stroke-width="1.35" fill="none"/>
<path d="M106.30,243.80 C107.27,240.92 110.25,232.13 112.10,226.49 C113.95,220.86 115.73,213.91 117.40,209.99 C119.07,206.07 120.53,203.29 122.10,203.00 C123.67,202.71 125.12,206.23 126.80,208.25 C128.48,210.26 130.40,212.57 132.20,215.10 C134.00,217.63 135.58,221.03 137.60,223.40 C139.62,225.77 142.23,227.87 144.30,229.30 C146.37,230.73 147.70,231.02 150.00,232.00 C152.30,232.98 155.60,234.45 158.10,235.20 C160.60,235.95 163.10,236.33 165.00,236.50 C166.90,236.67 167.85,235.63 169.50,236.20 C171.15,236.77 173.22,238.92 174.90,239.90 C176.58,240.88 177.20,241.82 179.60,242.10 C182.00,242.38 187.68,241.68 189.30,241.60" stroke="#000" stroke-opacity="0.17" stroke-width="1.35" fill="none"/>
<path d="M106.30,243.80 C107.42,241.50 111.05,234.13 113.00,230.00 C114.95,225.87 116.25,221.63 118.00,219.00 C119.75,216.37 121.35,213.88 123.50,214.20 C125.65,214.52 128.55,218.67 130.90,220.90 C133.25,223.13 135.37,225.70 137.60,227.60 C139.83,229.50 142.23,231.15 144.30,232.30 C146.37,233.45 147.38,233.80 150.00,234.50 C152.62,235.20 157.00,236.03 160.00,236.50 C163.00,236.97 166.25,237.22 168.00,237.30 C169.75,237.38 169.33,236.47 170.50,237.00 C171.67,237.53 173.42,239.50 175.00,240.50 C176.58,241.50 177.62,242.58 180.00,243.00 C182.38,243.42 187.75,243.00 189.30,243.00" stroke="#000" stroke-opacity="0.17" stroke-width="1.35" fill="none"/>
<path d="M106.30,243.80 C107.42,241.67 111.05,234.87 113.00,231.00 C114.95,227.13 116.25,223.07 118.00,220.60 C119.75,218.13 121.35,215.95 123.50,216.20 C125.65,216.45 128.55,220.12 130.90,222.10 C133.25,224.08 135.37,226.32 137.60,228.10 C139.83,229.88 142.23,231.65 144.30,232.80 C146.37,233.95 147.38,234.30 150.00,235.00 C152.62,235.70 157.00,236.53 160.00,237.00 C163.00,237.47 166.25,237.72 168.00,237.80 C169.75,237.88 169.33,236.97 170.50,237.50 C171.67,238.03 173.42,240.04 175.00,241.00 C176.58,241.96 177.62,242.88 180.00,243.25 C182.38,243.62 187.75,243.25 189.30,243.25" stroke="#000" stroke-opacity="0.17" stroke-width="1.35" fill="none"/>
<path d="M106.30,243.80 C107.42,241.83 111.05,235.60 113.00,232.00 C114.95,228.40 116.25,224.50 118.00,222.20 C119.75,219.90 121.35,218.02 123.50,218.20 C125.65,218.38 128.55,221.57 130.90,223.30 C133.25,225.03 135.37,226.93 137.60,228.60 C139.83,230.27 142.23,232.15 144.30,233.30 C146.37,234.45 147.38,234.80 150.00,235.50 C152.62,236.20 157.00,237.03 160.00,237.50 C163.00,237.97 166.25,238.22 168.00,238.30 C169.75,238.38 169.33,237.47 170.50,238.00 C171.67,238.53 173.42,240.58 175.00,241.50 C176.58,242.42 177.62,243.17 180.00,243.50 C182.38,243.83 187.75,243.50 189.30,243.50" stroke="#000" stroke-opacity="0.17" stroke-width="1.35" fill="none"/>
<path d="M106.30,243.80 C107.42,242.83 110.70,239.58 113.00,238.00 C115.30,236.42 117.60,234.63 120.10,234.30 C122.60,233.97 125.08,235.33 128.00,236.00 C130.92,236.67 133.93,237.80 137.60,238.30 C141.27,238.80 144.93,238.63 150.00,239.00 C155.07,239.37 163.30,239.58 168.00,240.50 C172.70,241.42 174.65,243.83 178.20,244.50 C181.75,245.17 187.45,244.50 189.30,244.50" stroke="#000" stroke-opacity="0.17" stroke-width="1.35" fill="none"/>
<path d="M106.30,243.80 C107.42,243.00 110.70,240.32 113.00,239.02 C115.30,237.72 117.60,236.37 120.10,236.00 C122.60,235.63 125.08,236.28 128.00,236.80 C130.92,237.32 133.93,238.60 137.60,239.10 C141.27,239.60 144.93,239.43 150.00,239.80 C155.07,240.17 163.30,240.45 168.00,241.30 C172.70,242.15 174.65,244.30 178.20,244.90 C181.75,245.50 187.45,244.90 189.30,244.90" stroke="#000" stroke-opacity="0.17" stroke-width="1.35" fill="none"/>
<path d="M106.30,243.90 C107.75,244.25 112.05,245.37 115.00,246.00 C117.95,246.63 118.17,247.30 124.00,247.70 C129.83,248.10 139.12,248.20 150.00,248.40 C160.88,248.60 182.75,248.82 189.30,248.90" stroke="#000" stroke-opacity="0.17" stroke-width="1.35" fill="none"/>
<path d="M106.30,244.00 C108.58,244.58 112.72,246.67 120.00,247.50 C127.28,248.33 138.45,248.72 150.00,249.00 C161.55,249.28 182.75,249.17 189.30,249.20" stroke="#000" stroke-opacity="0.17" stroke-width="1.35" fill="none"/>
<path d="M106.30,243.90 C107.25,243.48 110.38,242.02 112.00,241.40 C113.62,240.78 114.32,240.48 116.00,240.20 C117.68,239.92 119.62,239.33 122.10,239.70 C124.58,240.07 127.75,241.52 130.90,242.40 C134.05,243.28 137.82,244.40 141.00,245.00 C144.18,245.60 145.48,245.73 150.00,246.00 C154.52,246.27 164.18,246.40 168.10,246.60 C172.02,246.80 171.82,246.93 173.50,247.20 C175.18,247.47 175.57,248.03 178.20,248.20 C180.83,248.37 187.45,248.20 189.30,248.20" stroke="#000" stroke-width="2.6" fill="none" stroke-linecap="round"/>
<rect x="148.10" y="265.00" width="5.0" height="4.6" fill="#000"/>
<rect x="148.10" y="277.20" width="5.0" height="4.6" fill="#000"/>
<rect x="148.10" y="289.40" width="5.0" height="4.6" fill="#000"/>
<rect x="351.70" y="265.00" width="5.0" height="4.6" fill="#000"/>
<rect x="351.70" y="277.20" width="5.0" height="4.6" fill="#000"/>
<rect x="351.70" y="289.40" width="5.0" height="4.6" fill="#000"/>
<path d="M211.0,171.7 H269.0" stroke="#000" stroke-width="3.0" fill="none"/>
<path d="M277.4,171.7 L265.0,164.89999999999998 L269.2,171.7 L265.0,178.5 Z" fill="#000"/>
<path d="M422.8,171.7 H480.9" stroke="#000" stroke-width="3.0" fill="none"/>
<path d="M488.8,171.7 L476.9,164.89999999999998 L481.09999999999997,171.7 L476.9,178.5 Z" fill="#000"/>
<path d="M309.20,105.50 C310.35,105.12 313.57,104.12 316.10,103.20 C318.63,102.28 321.63,100.65 324.40,100.00 C327.17,99.35 329.00,99.37 332.70,99.30 C336.40,99.23 341.73,99.53 346.60,99.60 C351.47,99.67 357.97,99.68 361.90,99.70 C365.83,99.72 368.23,99.47 370.20,99.70 C372.17,99.93 372.55,100.47 373.70,101.10 C374.85,101.73 375.60,102.85 377.10,103.50 C378.60,104.15 380.12,104.67 382.70,105.00 C385.28,105.33 390.95,105.42 392.60,105.50" stroke="#000" stroke-width="2.6" fill="none" stroke-linecap="butt"/>
<path d="M309.20,177.30 C311.27,177.00 317.45,176.07 321.60,175.50 C325.75,174.93 329.93,174.40 334.10,173.90 C338.27,173.40 342.20,172.92 346.60,172.50 C351.00,172.08 356.57,171.75 360.50,171.40 C364.43,171.05 367.43,170.58 370.20,170.40 C372.97,170.22 373.37,170.13 377.10,170.30 C380.83,170.47 390.02,171.22 392.60,171.40" stroke="#000" stroke-width="2.6" fill="none" stroke-linecap="butt"/>
<path d="M309.20,243.90 C310.35,243.62 313.45,242.95 316.10,242.20 C318.75,241.45 322.33,239.63 325.10,239.40 C327.87,239.17 330.03,240.05 332.70,240.80 C335.37,241.55 338.32,243.08 341.10,243.90 C343.88,244.72 345.93,245.25 349.40,245.70 C352.87,246.15 358.43,246.45 361.90,246.60 C365.37,246.75 367.67,246.48 370.20,246.60 C372.73,246.72 375.02,247.07 377.10,247.30 C379.18,247.53 380.12,247.92 382.70,248.00 C385.28,248.08 390.95,247.83 392.60,247.80" stroke="#000" stroke-width="2.6" fill="none" stroke-linecap="butt"/>
<rect x="363.2" y="56.5" width="7.9" height="205.1" stroke="#6e6e6e" stroke-width="1.9" fill="none"/>
<path d="M571.5,84.2 V176.5 H662.2 M571.5,176.5 L520.5,231.1" stroke="#000" stroke-width="3.0" fill="none" stroke-linejoin="miter"/>
<text x="545.95" y="76.90" font-size="18" fill="#000" >Unit 3</text>
<text x="638.55" y="200.10" font-size="18" fill="#000" >Unit 2</text>
<text x="490.25" y="255.70" font-size="18" fill="#000" >Unit</text>
<path d=" M532.14,255.70 L533.73,255.70 L533.73,243.05 L532.49,243.05 C532.09,244.18 530.96,244.97 529.08,245.08 L529.08,246.45 L532.14,246.45 Z" fill="#000"/>
<text x="590.25" y="136.00" font-size="18" fill="#3aa97f" >Task</text>
<path d=" M637.14,136.00 L638.73,136.00 L638.73,123.35 L637.49,123.35 C637.09,124.48 635.96,125.27 634.08,125.38 L634.08,126.75 L637.14,126.75 Z" fill="#3aa97f"/>
<text x="511.15" y="154.70" font-size="18" fill="#8374c8" >Task 2</text>
<text x="578.35" y="230.60" font-size="18" fill="#df7b1d" >Task 3</text>
<circle cx="616.10" cy="147.70" r="5.1" fill="#3aa97f"/>
<circle cx="544.90" cy="171.80" r="5.1" fill="#8374c8"/>
<circle cx="604.30" cy="204.20" r="5.1" fill="#df7b1d"/>
<text x="-1.80" y="11.60" font-size="21.5" fill="#000" class="b" >a</text>
<circle cx="208.80" cy="370.00" r="4.35" fill="#6b370f"/>
<circle cx="98.20" cy="439.40" r="4.35" fill="#d4b26a"/>
<circle cx="233.40" cy="450.50" r="4.35" fill="#1f4d1c"/>
<circle cx="169.00" cy="541.60" r="4.35" fill="#777a2c"/>
<path d="M177.37,567.57 L177.37,333.47" stroke="#808080" stroke-width="4.25" stroke-dasharray="16.32 7.055" fill="none"/>
<path d="M60.30,450.52 L294.44,450.52" stroke="#808080" stroke-width="4.25" stroke-dasharray="16.32 7.055" fill="none"/>
<path d="M51.90,333.47 H60.30 V567.57 H294.44 V575.97 M51.90,567.57 H60.30 V575.97" stroke="#1c1c1c" stroke-width="1.4" fill="none" stroke-linecap="round"/>
<path d="M204.82,372.50 L105.40,434.88" stroke="#808080" stroke-width="3.0" fill="none" stroke-linecap="butt"/>
<path d="M110.75,426.10 L105.40,434.88 L115.64,433.89" stroke="#808080" stroke-width="3.0" fill="none" stroke-linecap="round" stroke-linejoin="round"/>
<path d="M230.69,454.34 L173.91,534.66" stroke="#808080" stroke-width="3.0" fill="none" stroke-linecap="butt"/>
<path d="M175.46,524.49 L173.91,534.66 L182.97,529.80" stroke="#808080" stroke-width="3.0" fill="none" stroke-linecap="round" stroke-linejoin="round"/>
<text x="194.00" y="339.00" font-size="18" fill="#6b370f" >Anti</text>
<text x="65.75" y="485.60" font-size="18" fill="#d4b26a" >Dly Anti</text>
<text x="242.35" y="463.20" font-size="18" fill="#1f4d1c" >Go</text>
<text x="122.65" y="567.90" font-size="18" fill="#777a2c" >Dly Go</text>
<text x="36.35" y="339.10" font-size="18" fill="#000" >2</text>
<rect x="26.00" y="567.75" width="9.6" height="1.3" fill="#000"/>
<text x="35.85" y="573.30" font-size="18" fill="#000" >2</text>
<rect x="50.20" y="590.25" width="9.6" height="1.3" fill="#000"/>
<text x="60.05" y="595.80" font-size="18" fill="#000" >2</text>
<text x="289.40" y="595.80" font-size="18" fill="#000" >2</text>
<text x="154.47" y="621.00" font-size="18" fill="#000" >rPC</text>
<path d=" M195.35,621.00 L196.93,621.00 L196.93,608.35 L195.69,608.35 C195.29,609.48 194.16,610.27 192.29,610.38 L192.29,611.75 L195.35,611.75 Z" fill="#000"/>
<text x="-7.93" y="450.00" font-size="18" fill="#000" transform="rotate(-90 15.20 450.00)">rPC 2</text>
<text x="-1.25" y="326.70" font-size="21.5" fill="#000" class="b" >b</text>
<circle cx="533.80" cy="375.40" r="4.35" fill="#6b370f"/>
<circle cx="539.20" cy="364.80" r="4.35" fill="#6b370f"/>
<circle cx="547.60" cy="376.90" r="4.35" fill="#6b370f"/>
<circle cx="554.60" cy="372.80" r="4.35" fill="#6b370f"/>
<circle cx="556.40" cy="382.00" r="4.35" fill="#6b370f"/>
<circle cx="559.30" cy="365.50" r="4.35" fill="#6b370f"/>
<circle cx="585.50" cy="350.60" r="4.35" fill="#6b370f"/>
<circle cx="579.10" cy="357.50" r="4.35" fill="#6b370f"/>
<circle cx="592.00" cy="357.90" r="4.35" fill="#6b370f"/>
<circle cx="587.90" cy="357.10" r="4.35" fill="#6b370f"/>
<circle cx="590.50" cy="354.50" r="4.35" fill="#6b370f"/>
<circle cx="564.60" cy="363.50" r="4.35" fill="#6b370f"/>
<circle cx="558.20" cy="365.50" r="4.35" fill="#6b370f"/>
<circle cx="573.50" cy="366.30" r="4.35" fill="#6b370f"/>
<circle cx="579.10" cy="363.90" r="4.35" fill="#6b370f"/>
<circle cx="587.10" cy="369.50" r="4.35" fill="#6b370f"/>
<circle cx="592.80" cy="370.30" r="4.35" fill="#6b370f"/>
<circle cx="598.40" cy="370.30" r="4.35" fill="#6b370f"/>
<circle cx="602.40" cy="373.10" r="4.35" fill="#6b370f"/>
<circle cx="586.30" cy="374.30" r="4.35" fill="#6b370f"/>
<circle cx="574.30" cy="373.50" r="4.35" fill="#6b370f"/>
<circle cx="567.00" cy="369.50" r="4.35" fill="#6b370f"/>
<circle cx="555.80" cy="371.90" r="4.35" fill="#6b370f"/>
<circle cx="567.00" cy="379.10" r="4.35" fill="#6b370f"/>
<circle cx="557.40" cy="381.60" r="4.35" fill="#6b370f"/>
<circle cx="564.60" cy="387.60" r="4.35" fill="#6b370f"/>
<circle cx="578.30" cy="383.60" r="4.35" fill="#6b370f"/>
<circle cx="589.50" cy="390.00" r="4.35" fill="#6b370f"/>
<circle cx="581.50" cy="367.10" r="4.35" fill="#6b370f"/>
<circle cx="570.00" cy="372.00" r="4.35" fill="#6b370f"/>
<circle cx="582.00" cy="372.00" r="4.35" fill="#6b370f"/>
<circle cx="469.80" cy="434.00" r="4.35" fill="#d4b26a"/>
<circle cx="465.00" cy="438.80" r="4.35" fill="#d4b26a"/>
<circle cx="487.30" cy="435.30" r="4.35" fill="#d4b26a"/>
<circle cx="463.60" cy="444.10" r="4.35" fill="#d4b26a"/>
<circle cx="482.00" cy="438.40" r="4.35" fill="#d4b26a"/>
<circle cx="485.50" cy="442.80" r="4.35" fill="#d4b26a"/>
<circle cx="451.40" cy="448.90" r="4.35" fill="#d4b26a"/>
<circle cx="455.80" cy="448.00" r="4.35" fill="#d4b26a"/>
<circle cx="470.60" cy="445.40" r="4.35" fill="#d4b26a"/>
<circle cx="483.80" cy="453.30" r="4.35" fill="#d4b26a"/>
<circle cx="452.30" cy="457.70" r="4.35" fill="#d4b26a"/>
<circle cx="460.10" cy="455.90" r="4.35" fill="#d4b26a"/>
<circle cx="468.90" cy="456.80" r="4.35" fill="#d4b26a"/>
<circle cx="474.20" cy="459.40" r="4.35" fill="#d4b26a"/>
<circle cx="481.20" cy="462.90" r="4.35" fill="#d4b26a"/>
<circle cx="452.30" cy="467.30" r="4.35" fill="#d4b26a"/>
<circle cx="457.50" cy="464.70" r="4.35" fill="#d4b26a"/>
<circle cx="465.40" cy="460.30" r="4.35" fill="#d4b26a"/>
<circle cx="475.00" cy="465.50" r="4.35" fill="#d4b26a"/>
<circle cx="476.80" cy="450.60" r="4.35" fill="#d4b26a"/>
<circle cx="478.00" cy="444.00" r="4.35" fill="#d4b26a"/>
<circle cx="462.00" cy="450.00" r="4.35" fill="#d4b26a"/>
<circle cx="468.50" cy="450.50" r="4.35" fill="#d4b26a"/>
<circle cx="472.00" cy="452.00" r="4.35" fill="#d4b26a"/>
<circle cx="599.80" cy="450.30" r="4.35" fill="#1f4d1c"/>
<circle cx="604.50" cy="450.20" r="4.35" fill="#1f4d1c"/>
<circle cx="608.50" cy="450.00" r="4.35" fill="#1f4d1c"/>
<circle cx="612.00" cy="450.30" r="4.35" fill="#1f4d1c"/>
<circle cx="616.00" cy="450.00" r="4.35" fill="#1f4d1c"/>
<circle cx="620.00" cy="450.40" r="4.35" fill="#1f4d1c"/>
<circle cx="623.50" cy="450.20" r="4.35" fill="#1f4d1c"/>
<circle cx="633.70" cy="450.20" r="4.35" fill="#1f4d1c"/>
<circle cx="610.00" cy="450.50" r="4.35" fill="#1f4d1c"/>
<circle cx="618.00" cy="450.60" r="4.35" fill="#1f4d1c"/>
<circle cx="503.80" cy="513.30" r="4.35" fill="#777a2c"/>
<circle cx="504.70" cy="519.90" r="4.35" fill="#777a2c"/>
<circle cx="514.80" cy="516.40" r="4.35" fill="#777a2c"/>
<circle cx="521.80" cy="512.40" r="4.35" fill="#777a2c"/>
<circle cx="527.50" cy="510.30" r="4.35" fill="#777a2c"/>
<circle cx="533.60" cy="521.20" r="4.35" fill="#777a2c"/>
<circle cx="490.70" cy="528.60" r="4.35" fill="#777a2c"/>
<circle cx="494.60" cy="535.60" r="4.35" fill="#777a2c"/>
<circle cx="502.50" cy="533.90" r="4.35" fill="#777a2c"/>
<circle cx="510.40" cy="537.00" r="4.35" fill="#777a2c"/>
<circle cx="517.00" cy="537.00" r="4.35" fill="#777a2c"/>
<circle cx="525.30" cy="534.80" r="4.35" fill="#777a2c"/>
<circle cx="510.40" cy="528.60" r="4.35" fill="#777a2c"/>
<circle cx="517.40" cy="525.10" r="4.35" fill="#777a2c"/>
<circle cx="522.70" cy="529.50" r="4.35" fill="#777a2c"/>
<circle cx="529.70" cy="525.60" r="4.35" fill="#777a2c"/>
<circle cx="514.80" cy="521.60" r="4.35" fill="#777a2c"/>
<circle cx="535.80" cy="535.20" r="4.35" fill="#777a2c"/>
<circle cx="539.70" cy="531.30" r="4.35" fill="#777a2c"/>
<circle cx="536.70" cy="541.80" r="4.35" fill="#777a2c"/>
<circle cx="527.90" cy="545.70" r="4.35" fill="#777a2c"/>
<circle cx="506.90" cy="533.90" r="4.35" fill="#777a2c"/>
<circle cx="520.00" cy="533.00" r="4.35" fill="#777a2c"/>
<circle cx="524.40" cy="522.50" r="4.35" fill="#777a2c"/>
<circle cx="512.00" cy="531.00" r="4.35" fill="#777a2c"/>
<circle cx="508.00" cy="526.00" r="4.35" fill="#777a2c"/>
<circle cx="518.00" cy="529.00" r="4.35" fill="#777a2c"/>
<circle cx="523.00" cy="518.00" r="4.35" fill="#777a2c"/>
<circle cx="518.50" cy="518.50" r="4.35" fill="#777a2c"/>
<circle cx="511.00" cy="522.00" r="4.35" fill="#777a2c"/>
<circle cx="553.80" cy="538.00" r="4.35" fill="#777a2c"/>
<path d="M544.27,567.57 L544.27,333.47" stroke="#808080" stroke-width="4.25" stroke-dasharray="16.32 7.055" fill="none"/>
<path d="M427.20,450.52 L661.34,450.52" stroke="#808080" stroke-width="4.25" stroke-dasharray="16.32 7.055" fill="none"/>
<path d="M418.80,333.47 H427.20 V567.57 H661.34 V575.97 M418.80,567.57 H427.20 V575.97" stroke="#1c1c1c" stroke-width="1.4" fill="none" stroke-linecap="round"/>
<path d="M569.20,373.60 L477.90,447.80" stroke="#808080" stroke-width="3.0" fill="none" stroke-linecap="butt"/>
<path d="M482.14,438.43 L477.90,447.80 L487.94,445.57" stroke="#808080" stroke-width="3.0" fill="none" stroke-linecap="round" stroke-linejoin="round"/>
<path d="M608.80,453.10 L526.00,522.30" stroke="#808080" stroke-width="3.0" fill="none" stroke-linecap="butt"/>
<path d="M530.11,512.87 L526.00,522.30 L536.01,519.93" stroke="#808080" stroke-width="3.0" fill="none" stroke-linecap="round" stroke-linejoin="round"/>
<text x="561.20" y="338.90" font-size="18" fill="#6b370f" >Anti</text>
<text x="432.65" y="485.60" font-size="18" fill="#d4b26a" >Dly Anti</text>
<text x="608.05" y="463.20" font-size="18" fill="#1f4d1c" >Go</text>
<text x="489.55" y="567.90" font-size="18" fill="#777a2c" >Dly Go</text>
<text x="403.25" y="339.10" font-size="18" fill="#000" >2</text>
<rect x="392.90" y="567.75" width="9.6" height="1.3" fill="#000"/>
<text x="402.75" y="573.30" font-size="18" fill="#000" >2</text>
<rect x="417.10" y="590.25" width="9.6" height="1.3" fill="#000"/>
<text x="426.95" y="595.80" font-size="18" fill="#000" >2</text>
<text x="656.30" y="595.80" font-size="18" fill="#000" >2</text>
<text x="523.77" y="621.00" font-size="18" fill="#000" >rPC</text>
<path d=" M559.65,621.00 L561.23,621.00 L561.23,608.35 L559.99,608.35 C559.59,609.48 558.46,610.27 556.59,610.38 L556.59,611.75 L559.65,611.75 Z" fill="#000"/>
<text x="352.77" y="450.00" font-size="18" fill="#000" transform="rotate(-90 375.90 450.00)">rPC 2</text>
<text x="360.15" y="327.40" font-size="21.5" fill="#000" class="b" >c</text>
<circle cx="102.95" cy="737.45" r="4.35" fill="#48c89b"/>
<circle cx="122.60" cy="880.20" r="4.35" fill="#a348be"/>
<circle cx="242.00" cy="725.00" r="4.35" fill="#288a8c"/>
<circle cx="242.10" cy="780.40" r="4.35" fill="#4e1973"/>
<path d="M177.37,898.20 L177.37,663.90" stroke="#808080" stroke-width="4.25" stroke-dasharray="16.32 7.055" fill="none"/>
<path d="M60.30,781.05 L294.44,781.05" stroke="#808080" stroke-width="4.25" stroke-dasharray="16.32 7.055" fill="none"/>
<path d="M51.90,663.90 H60.30 V898.20 H294.44 V906.60 M51.90,898.20 H60.30 V906.60" stroke="#1c1c1c" stroke-width="1.4" fill="none" stroke-linecap="round"/>
<path d="M121.96,875.54 L104.18,746.37" stroke="#808080" stroke-width="3.0" fill="none" stroke-linecap="butt"/>
<path d="M109.99,754.85 L104.18,746.37 L100.87,756.11" stroke="#808080" stroke-width="3.0" fill="none" stroke-linecap="round" stroke-linejoin="round"/>
<path d="M242.09,775.70 L242.02,733.50" stroke="#808080" stroke-width="3.0" fill="none" stroke-linecap="butt"/>
<path d="M246.63,742.69 L242.02,733.50 L237.43,742.71" stroke="#808080" stroke-width="3.0" fill="none" stroke-linecap="round" stroke-linejoin="round"/>
<text x="65.05" y="726.60" font-size="18" fill="#48c89b" >Ctx DM 2</text>
<text x="188.35" y="667.90" font-size="18" fill="#288a8c" >Ctx Dly DM 2</text>
<text x="80.65" y="907.20" font-size="18" fill="#a348be" >Ctx DM</text>
<path d=" M150.53,907.20 L152.11,907.20 L152.11,894.55 L150.87,894.55 C150.47,895.68 149.34,896.47 147.47,896.58 L147.47,897.95 L150.53,897.95 Z" fill="#a348be"/>
<text x="196.75" y="794.60" font-size="18" fill="#4e1973" >Ctx Dly DM</text>
<path d=" M297.63,794.60 L299.21,794.60 L299.21,781.95 L297.97,781.95 C297.57,783.08 296.44,783.87 294.57,783.98 L294.57,785.35 L297.63,785.35 Z" fill="#4e1973"/>
<path d=" M41.32,669.80 L42.90,669.80 L42.90,657.15 L41.66,657.15 C41.26,658.28 40.13,659.07 38.26,659.18 L38.26,660.55 L41.32,660.55 Z" fill="#000"/>
<rect x="26.46" y="897.85" width="9.6" height="1.3" fill="#000"/>
<path d=" M41.32,903.40 L42.90,903.40 L42.90,890.75 L41.66,890.75 C41.26,891.88 40.13,892.67 38.26,892.78 L38.26,894.15 L41.32,894.15 Z" fill="#000"/>
<rect x="50.20" y="921.05" width="9.6" height="1.3" fill="#000"/>
<text x="60.05" y="926.60" font-size="18" fill="#000" >2</text>
<text x="289.40" y="926.60" font-size="18" fill="#000" >2</text>
<text x="154.67" y="953.60" font-size="18" fill="#000" >rPC</text>
<path d=" M195.55,953.60 L197.13,953.60 L197.13,940.95 L195.89,940.95 C195.49,942.08 194.36,942.87 192.49,942.98 L192.49,944.35 L195.55,944.35 Z" fill="#000"/>
<text x="-7.93" y="780.60" font-size="18" fill="#000" transform="rotate(-90 15.20 780.60)">rPC 2</text>
<text x="-0.75" y="657.90" font-size="21.5" fill="#000" class="b" >d</text>
<circle cx="451.80" cy="731.80" r="4.35" fill="#48c89b"/>
<circle cx="461.00" cy="736.90" r="4.35" fill="#48c89b"/>
<circle cx="457.40" cy="741.50" r="4.35" fill="#48c89b"/>
<circle cx="468.60" cy="734.80" r="4.35" fill="#48c89b"/>
<circle cx="475.80" cy="731.80" r="4.35" fill="#48c89b"/>
<circle cx="480.40" cy="734.30" r="4.35" fill="#48c89b"/>
<circle cx="488.00" cy="740.40" r="4.35" fill="#48c89b"/>
<circle cx="489.00" cy="744.00" r="4.35" fill="#48c89b"/>
<circle cx="482.90" cy="743.50" r="4.35" fill="#48c89b"/>
<circle cx="476.80" cy="740.40" r="4.35" fill="#48c89b"/>
<circle cx="470.70" cy="740.40" r="4.35" fill="#48c89b"/>
<circle cx="464.50" cy="749.60" r="4.35" fill="#48c89b"/>
<circle cx="478.30" cy="750.10" r="4.35" fill="#48c89b"/>
<circle cx="482.40" cy="750.70" r="4.35" fill="#48c89b"/>
<circle cx="470.70" cy="757.80" r="4.35" fill="#48c89b"/>
<circle cx="492.60" cy="753.70" r="4.35" fill="#48c89b"/>
<circle cx="492.10" cy="761.40" r="4.35" fill="#48c89b"/>
<circle cx="482.90" cy="767.00" r="4.35" fill="#48c89b"/>
<circle cx="479.30" cy="778.20" r="4.35" fill="#48c89b"/>
<circle cx="470.70" cy="781.30" r="4.35" fill="#48c89b"/>
<circle cx="465.00" cy="741.50" r="4.35" fill="#48c89b"/>
<circle cx="476.50" cy="746.00" r="4.35" fill="#48c89b"/>
<circle cx="463.80" cy="752.80" r="4.35" fill="#48c89b"/>
<circle cx="478.70" cy="749.90" r="4.35" fill="#48c89b"/>
<circle cx="482.80" cy="751.70" r="4.35" fill="#48c89b"/>
<circle cx="473.00" cy="737.00" r="4.35" fill="#48c89b"/>
<circle cx="486.00" cy="737.00" r="4.35" fill="#48c89b"/>
<circle cx="479.80" cy="857.60" r="4.35" fill="#a348be"/>
<circle cx="472.20" cy="861.70" r="4.35" fill="#a348be"/>
<circle cx="504.30" cy="857.60" r="4.35" fill="#a348be"/>
<circle cx="467.50" cy="866.40" r="4.35" fill="#a348be"/>
<circle cx="464.60" cy="871.60" r="4.35" fill="#a348be"/>
<circle cx="470.40" cy="872.80" r="4.35" fill="#a348be"/>
<circle cx="476.90" cy="869.30" r="4.35" fill="#a348be"/>
<circle cx="487.40" cy="868.70" r="4.35" fill="#a348be"/>
<circle cx="495.00" cy="861.70" r="4.35" fill="#a348be"/>
<circle cx="500.20" cy="864.00" r="4.35" fill="#a348be"/>
<circle cx="509.00" cy="864.60" r="4.35" fill="#a348be"/>
<circle cx="506.10" cy="871.00" r="4.35" fill="#a348be"/>
<circle cx="514.80" cy="876.30" r="4.35" fill="#a348be"/>
<circle cx="476.90" cy="880.40" r="4.35" fill="#a348be"/>
<circle cx="482.70" cy="881.00" r="4.35" fill="#a348be"/>
<circle cx="488.50" cy="879.20" r="4.35" fill="#a348be"/>
<circle cx="494.40" cy="874.50" r="4.35" fill="#a348be"/>
<circle cx="499.00" cy="882.70" r="4.35" fill="#a348be"/>
<circle cx="503.70" cy="878.60" r="4.35" fill="#a348be"/>
<circle cx="499.60" cy="871.60" r="4.35" fill="#a348be"/>
<circle cx="490.90" cy="873.40" r="4.35" fill="#a348be"/>
<circle cx="471.00" cy="879.00" r="4.35" fill="#a348be"/>
<circle cx="493.00" cy="866.00" r="4.35" fill="#a348be"/>
<circle cx="588.60" cy="682.80" r="4.35" fill="#288a8c"/>
<circle cx="599.50" cy="679.90" r="4.35" fill="#288a8c"/>
<circle cx="573.10" cy="704.80" r="4.35" fill="#288a8c"/>
<circle cx="594.30" cy="708.00" r="4.35" fill="#288a8c"/>
<circle cx="589.50" cy="713.30" r="4.35" fill="#288a8c"/>
<circle cx="614.40" cy="708.40" r="4.35" fill="#288a8c"/>
<circle cx="612.00" cy="712.90" r="4.35" fill="#288a8c"/>
<circle cx="599.10" cy="718.50" r="4.35" fill="#288a8c"/>
<circle cx="596.70" cy="722.50" r="4.35" fill="#288a8c"/>
<circle cx="607.10" cy="719.30" r="4.35" fill="#288a8c"/>
<circle cx="615.20" cy="721.30" r="4.35" fill="#288a8c"/>
<circle cx="581.40" cy="723.30" r="4.35" fill="#288a8c"/>
<circle cx="587.90" cy="727.30" r="4.35" fill="#288a8c"/>
<circle cx="592.70" cy="732.10" r="4.35" fill="#288a8c"/>
<circle cx="606.30" cy="728.10" r="4.35" fill="#288a8c"/>
<circle cx="612.80" cy="733.70" r="4.35" fill="#288a8c"/>
<circle cx="620.00" cy="728.90" r="4.35" fill="#288a8c"/>
<circle cx="624.80" cy="728.90" r="4.35" fill="#288a8c"/>
<circle cx="625.60" cy="737.30" r="4.35" fill="#288a8c"/>
<circle cx="588.70" cy="740.60" r="4.35" fill="#288a8c"/>
<circle cx="598.30" cy="741.00" r="4.35" fill="#288a8c"/>
<circle cx="610.30" cy="743.40" r="4.35" fill="#288a8c"/>
<circle cx="601.50" cy="733.70" r="4.35" fill="#288a8c"/>
<circle cx="592.00" cy="736.00" r="4.35" fill="#288a8c"/>
<circle cx="606.00" cy="737.00" r="4.35" fill="#288a8c"/>
<circle cx="593.40" cy="780.80" r="4.35" fill="#4e1973"/>
<circle cx="597.00" cy="780.80" r="4.35" fill="#4e1973"/>
<circle cx="601.00" cy="780.80" r="4.35" fill="#4e1973"/>
<circle cx="605.00" cy="780.80" r="4.35" fill="#4e1973"/>
<circle cx="609.00" cy="780.80" r="4.35" fill="#4e1973"/>
<circle cx="611.00" cy="780.80" r="4.35" fill="#4e1973"/>
<circle cx="614.00" cy="780.80" r="4.35" fill="#4e1973"/>
<circle cx="618.00" cy="780.80" r="4.35" fill="#4e1973"/>
<circle cx="622.00" cy="780.80" r="4.35" fill="#4e1973"/>
<circle cx="626.00" cy="780.80" r="4.35" fill="#4e1973"/>
<circle cx="631.30" cy="780.80" r="4.35" fill="#4e1973"/>
<path d="M544.27,898.20 L544.27,663.90" stroke="#808080" stroke-width="4.25" stroke-dasharray="16.32 7.055" fill="none"/>
<path d="M427.20,781.05 L661.34,781.05" stroke="#808080" stroke-width="4.25" stroke-dasharray="16.32 7.055" fill="none"/>
<path d="M418.80,663.90 H427.20 V898.20 H661.34 V906.60 M418.80,898.20 H427.20 V906.60" stroke="#1c1c1c" stroke-width="1.4" fill="none" stroke-linecap="round"/>
<path d="M489.00,866.00 L476.40,755.80" stroke="#808080" stroke-width="3.0" fill="none" stroke-linecap="butt"/>
<path d="M482.02,764.42 L476.40,755.80 L472.87,765.46" stroke="#808080" stroke-width="3.0" fill="none" stroke-linecap="round" stroke-linejoin="round"/>
<path d="M609.50,776.20 L603.20,734.10" stroke="#808080" stroke-width="3.0" fill="none" stroke-linecap="butt"/>
<path d="M609.11,742.52 L603.20,734.10 L600.01,743.88" stroke="#808080" stroke-width="3.0" fill="none" stroke-linecap="round" stroke-linejoin="round"/>
<text x="431.95" y="726.60" font-size="18" fill="#48c89b" >Ctx DM 2</text>
<text x="555.25" y="667.90" font-size="18" fill="#288a8c" >Ctx Dly DM 2</text>
<text x="447.55" y="907.20" font-size="18" fill="#a348be" >Ctx DM</text>
<path d=" M517.43,907.20 L519.01,907.20 L519.01,894.55 L517.77,894.55 C517.37,895.68 516.24,896.47 514.37,896.58 L514.37,897.95 L517.43,897.95 Z" fill="#a348be"/>
<text x="563.65" y="794.60" font-size="18" fill="#4e1973" >Ctx Dly DM</text>
<path d=" M664.53,794.60 L666.11,794.60 L666.11,781.95 L664.87,781.95 C664.47,783.08 663.34,783.87 661.47,783.98 L661.47,785.35 L664.53,785.35 Z" fill="#4e1973"/>
<path d=" M408.22,669.80 L409.80,669.80 L409.80,657.15 L408.56,657.15 C408.16,658.28 407.03,659.07 405.16,659.18 L405.16,660.55 L408.22,660.55 Z" fill="#000"/>
<rect x="393.36" y="897.85" width="9.6" height="1.3" fill="#000"/>
<path d=" M408.22,903.40 L409.80,903.40 L409.80,890.75 L408.56,890.75 C408.16,891.88 407.03,892.67 405.16,892.78 L405.16,894.15 L408.22,894.15 Z" fill="#000"/>
<rect x="417.10" y="921.05" width="9.6" height="1.3" fill="#000"/>
<text x="426.95" y="926.60" font-size="18" fill="#000" >2</text>
<text x="656.30" y="926.60" font-size="18" fill="#000" >2</text>
<text x="521.27" y="953.60" font-size="18" fill="#000" >rPC</text>
<path d=" M562.15,953.60 L563.73,953.60 L563.73,940.95 L562.49,940.95 C562.09,942.08 560.96,942.87 559.09,942.98 L559.09,944.35 L562.15,944.35 Z" fill="#000"/>
<text x="352.77" y="780.60" font-size="18" fill="#000" transform="rotate(-90 375.90 780.60)">rPC 2</text>
<text x="360.15" y="657.90" font-size="21.5" fill="#000" class="b" >e</text>
</svg>
</body></html>
